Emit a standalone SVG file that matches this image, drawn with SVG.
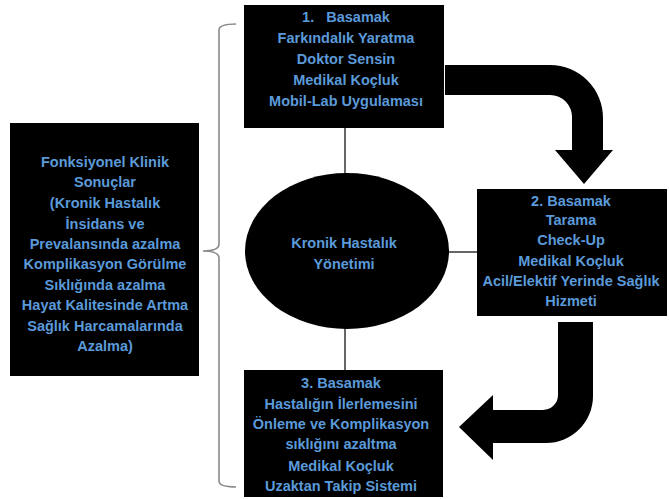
<svg xmlns="http://www.w3.org/2000/svg" width="669" height="499" viewBox="0 0 669 499">
<defs>
<style>
.box{fill:#000}
.t{font-family:"Liberation Sans",Arial,sans-serif;font-weight:bold;font-size:14.5px;fill:#5b9ad9;text-anchor:middle}
.ln{stroke:#000;stroke-width:1.2;fill:none}
.br{stroke:#8a8a8a;stroke-width:1.6;fill:none}
.ar{fill:#000}
</style>
</defs>
<rect width="669" height="499" fill="#fff"/>
<g id="connectors">
<line class="ln" x1="345" y1="128" x2="345" y2="174"/>
<line class="ln" x1="448" y1="252" x2="477" y2="252"/>
<line class="ln" x1="345" y1="328" x2="345" y2="370"/>
<path class="br" d="M236,24 Q219,24 219,30 L219,244 Q219,251 203,251 Q219,251 219,258 L219,481 Q219,487 236,487"/>
<path class="ar" d="M445,65 L550,65 A53,53 0 0 1 603,118 L603,150 L613,150 L584,184 L555,150 L572,150 L572,118 A22,22 0 0 0 550,95 L445,95 Z"/>
<path class="ar" d="M558,322 L593,322 L593,396 A47,47 0 0 1 546,443 L493,443 L493,460 L459,427 L493,395 L493,410 L543,410 A15,15 0 0 0 558,395 Z"/>
</g>
<g id="step1">
<rect class="box" x="244" y="5" width="200" height="123"/>
<text class="t" x="346" y="22">1.&#160;&#160;&#160;Basamak</text>
<text class="t" x="346" y="43">Farkındalık Yaratma</text>
<text class="t" x="346" y="64">Doktor Sensin</text>
<text class="t" x="346" y="85">Medikal Koçluk</text>
<text class="t" x="346" y="106">Mobil-Lab Uygulaması</text>
</g>
<g id="outcomes">
<rect class="box" x="10" y="123" width="189" height="253"/>
<text class="t" x="105" y="167">Fonksiyonel Klinik</text>
<text class="t" x="105" y="187">Sonuçlar</text>
<text class="t" x="105" y="208">(Kronik Hastalık</text>
<text class="t" x="105" y="229">İnsidans ve</text>
<text class="t" x="105" y="249">Prevalansında azalma</text>
<text class="t" x="105" y="269">Komplikasyon Görülme</text>
<text class="t" x="105" y="290">Sıklığında azalma</text>
<text class="t" x="105" y="310">Hayat Kalitesinde Artma</text>
<text class="t" x="105" y="331">Sağlık Harcamalarında</text>
<text class="t" x="105" y="351">Azalma)</text>
</g>
<g id="center">
<ellipse class="box" cx="347" cy="251" rx="102" ry="78"/>
<text class="t" x="344" y="248">Kronik Hastalık</text>
<text class="t" x="344" y="269">Yönetimi</text>
</g>
<g id="step2">
<rect class="box" x="477" y="189" width="190" height="127"/>
<text class="t" x="571" y="206">2. Basamak</text>
<text class="t" x="571" y="225">Tarama</text>
<text class="t" x="571" y="245">Check-Up</text>
<text class="t" x="571" y="266">Medikal Koçluk</text>
<text class="t" x="571" y="286">Acil/Elektif Yerinde Sağlık</text>
<text class="t" x="571" y="306">Hizmeti</text>
</g>
<g id="step3">
<rect class="box" x="244" y="370" width="199" height="127"/>
<text class="t" x="341" y="388">3. Basamak</text>
<text class="t" x="341" y="409">Hastalığın İlerlemesini</text>
<text class="t" x="341" y="429">Önleme ve Komplikasyon</text>
<text class="t" x="341" y="449">sıklığını azaltma</text>
<text class="t" x="341" y="471">Medikal Koçluk</text>
<text class="t" x="341" y="491">Uzaktan Takip Sistemi</text>
</g>
</svg>
